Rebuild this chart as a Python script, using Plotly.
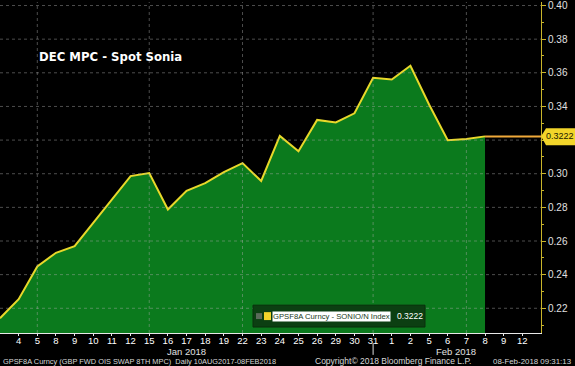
import plotly.graph_objects as go

# ---- data ----
date_labels = ["3", "4", "5", "8", "9", "10", "11", "12", "15", "16", "17", "18", "19",
               "22", "23", "24", "25", "26", "29", "30", "31", "1", "2", "5", "6", "7", "8"]
future_labels = ["9", "12"]
sonia_values = [0.2141, 0.2254, 0.2449, 0.2530, 0.2569, 0.2709, 0.2846, 0.2986, 0.3004,
                0.2787, 0.2898, 0.2944, 0.3010, 0.3063, 0.2957, 0.3225, 0.3134, 0.3320,
                0.3305, 0.3359, 0.3570, 0.3560, 0.3642, 0.3412, 0.3199, 0.3206, 0.3222]
last_value = 0.3222
y_ticks = [0.22, 0.24, 0.26, 0.28, 0.30, 0.32, 0.34, 0.36, 0.38, 0.40]
month_labels = ["Jan 2018", "Feb 2018"]
grid_dates_idx = [2, 8, 13, 20, 25]

all_labels = date_labels + future_labels
x_idx = list(range(len(date_labels)))
n_total = len(all_labels)  # 29 -> right axis at index 29

W, H = 575, 366
PL, PR, PT, PB = 0, 34, 0, 33
PW, PH = W - PL - PR, H - PT - PB
FONT = "Liberation Sans"


def px(x):
    return (x - PL) / PW


def py(y):
    return (PH + PT - y) / PH


fig = go.Figure()
fig.add_trace(go.Scatter(
    x=x_idx, y=sonia_values, mode="lines",
    line=dict(color="#e8d82a", width=2),
    fill="tozeroy", fillcolor="#0b7a1d", hoverinfo="skip", showlegend=False))
fig.add_trace(go.Scatter(
    x=[x_idx[-1], n_total], y=[last_value, last_value], mode="lines",
    line=dict(color="#f0a93a", width=2), hoverinfo="skip", showlegend=False))

shapes = []
for v in y_ticks:
    shapes.append(dict(type="line", xref="paper", yref="y", x0=0, x1=1, y0=v, y1=v,
                       line=dict(color="rgba(170,170,170,0.45)", width=1, dash="dot"),
                       layer="above"))
for gi in grid_dates_idx:
    shapes.append(dict(type="line", xref="x", yref="paper", x0=gi, x1=gi, y0=0, y1=1,
                       line=dict(color="rgba(170,170,170,0.45)", width=1, dash="dot"),
                       layer="above"))
shapes.append(dict(type="line", xref="x", yref="paper", x0=20, x1=20,
                   y0=py(343), y1=py(355), line=dict(color="#dddddd", width=1)))
shapes.append(dict(type="path", xref="paper", yref="paper",
                   path=f"M {px(541)},{py(135)} L {px(546)},{py(127)} L {px(575)},{py(127)} "
                        f"L {px(575)},{py(144)} L {px(546)},{py(144)} Z",
                   fillcolor="#f2d52a", line=dict(width=0), layer="above"))
shapes.append(dict(type="rect", xref="paper", yref="paper",
                   x0=px(253), x1=px(425), y0=py(327), y1=py(305),
                   fillcolor="#0c3f12", line=dict(color="#0a2e0c", width=1), layer="above"))
shapes.append(dict(type="rect", xref="paper", yref="paper",
                   x0=px(256), x1=px(262), y0=py(319), y1=py(313),
                   fillcolor="#5a6a5a", line=dict(width=0), layer="above"))
shapes.append(dict(type="rect", xref="paper", yref="paper",
                   x0=px(264), x1=px(271), y0=py(320), y1=py(312),
                   fillcolor="#f2d52a", line=dict(width=0), layer="above"))

annotations = [
    dict(text="<b>DEC MPC - Spot Sonia</b>", xref="paper", yref="paper",
         x=px(37), y=py(55), xanchor="left", yanchor="middle", showarrow=False,
         font=dict(family="DejaVu Sans", size=11.7, color="#ffffff")),
    dict(text=f"{last_value:.4f}", xref="paper", yref="paper",
         x=px(560), y=py(135), xanchor="center", yanchor="middle", showarrow=False,
         font=dict(family=FONT, size=9, color="#1a1a00")),
    dict(text="GPSF8A Curncy - SONIO/N Index", xref="paper", yref="paper",
         x=px(272), y=py(316), xanchor="left", yanchor="middle", showarrow=False,
         bgcolor="#ffffff", borderpad=0,
         font=dict(family=FONT, size=7.7, color="#1a3a1a")),
    dict(text=f"{last_value:.4f}", xref="paper", yref="paper",
         x=px(395), y=py(316), xanchor="left", yanchor="middle", showarrow=False,
         font=dict(family=FONT, size=8.5, color="#ffffff")),
    dict(text=month_labels[0], xref="x", yref="paper", x=10, y=py(351.5),
         xanchor="center", yanchor="middle", showarrow=False,
         font=dict(family=FONT, size=9.5, color="#e0e0e0")),
    dict(text=month_labels[1], xref="x", yref="paper", x=24.45, y=py(351.5),
         xanchor="center", yanchor="middle", showarrow=False,
         font=dict(family=FONT, size=9.5, color="#e0e0e0")),
    dict(text="GPSF8A Curncy (GBP FWD OIS SWAP 8TH MPC)  Daily 10AUG2017-08FEB2018",
         xref="paper", yref="paper", x=px(1), y=py(361.5), xanchor="left", yanchor="middle",
         showarrow=False, font=dict(family=FONT, size=7.4, color="#d8d8d8")),
    dict(text="Copyright\u00a9 2018 Bloomberg Finance L.P.",
         xref="paper", yref="paper", x=px(313), y=py(361.5), xanchor="left", yanchor="middle",
         showarrow=False, font=dict(family=FONT, size=8.5, color="#d8d8d8")),
    dict(text="08-Feb-2018 09:31:13",
         xref="paper", yref="paper", x=px(574), y=py(361.5), xanchor="right", yanchor="middle",
         showarrow=False, font=dict(family=FONT, size=7.9, color="#d8d8d8")),
]

fig.update_layout(
    width=W, height=H,
    margin=dict(l=PL, r=PR, t=PT, b=PB, pad=0),
    paper_bgcolor="#000000", plot_bgcolor="#000000",
    showlegend=False,
    shapes=shapes, annotations=annotations,
    xaxis=dict(range=[0, n_total], tickmode="array",
               tickvals=list(range(1, n_total)), ticktext=all_labels[1:],
               showgrid=False, zeroline=False, showline=True, linecolor="#e8e8e8",
               linewidth=1, ticks="outside", ticklen=2, tickcolor="#e8e8e8",
               ticklabelstandoff=-3,
               tickfont=dict(family=FONT, size=9.5, color="#ffffff"),
               fixedrange=True),
    yaxis=dict(range=[0.2053, 0.4021], side="right", tickmode="array",
               tickvals=y_ticks, ticktext=[f"{v:.2f}" for v in y_ticks],
               showgrid=False, zeroline=False, showline=True, linecolor="#c9b52a",
               linewidth=1, ticks="outside", ticklen=4, tickcolor="#c9b52a",
               ticklabeloverflow="allow",
               minor=dict(tickvals=[round(v + 0.01, 2) for v in y_ticks[:-1]] + [0.21],
                          ticks="outside", ticklen=2, tickcolor="#c9b52a"),
               tickfont=dict(family=FONT, size=10, color="#e0e0e0"),
               fixedrange=True),
)

fig.write_html("out.html", config={"displayModeBar": False},
               post_script="document.body.style.margin='0';document.body.style.background='#000';")
